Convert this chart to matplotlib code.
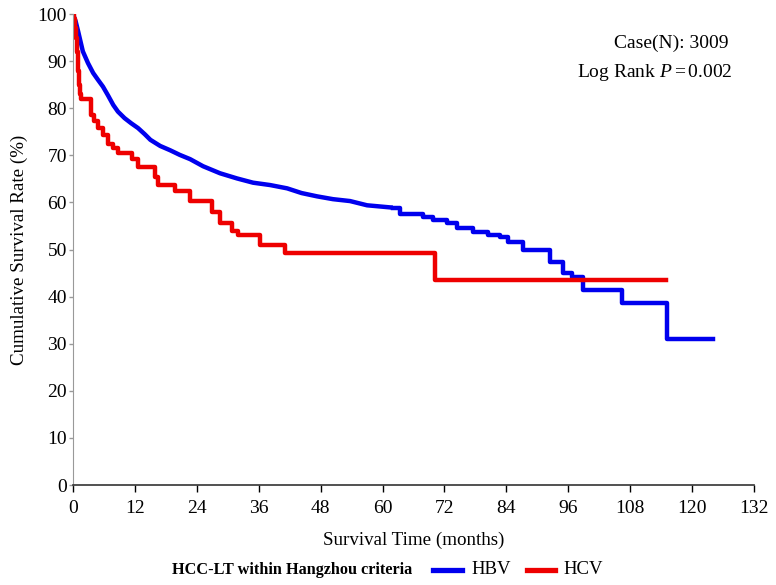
import matplotlib
matplotlib.use('Agg')
import matplotlib.pyplot as plt
from matplotlib.lines import Line2D

plt.rcParams['font.family'] = ['Liberation Serif', 'DejaVu Serif']
plt.rcParams['mathtext.fontset'] = 'custom'
plt.rcParams['mathtext.rm'] = 'Liberation Serif'
plt.rcParams['mathtext.it'] = 'Liberation Serif:italic'

# HBV curve (months, survival %)
# dense early part: many tiny events, drawn as a line
hbv_t = [0, 0.5, 1.0, 1.9, 2.9, 3.9, 4.8, 5.8, 6.8, 7.8, 8.7, 10, 11.3, 12.6, 13.9,
         15, 16.9, 18.8, 20.7, 22.7, 25.2, 28.5, 31.8, 34.9, 38.2, 41.5, 44.3, 47.3,
         50.4, 53.7, 57, 62]
hbv_s = [100, 98.5, 96.3, 92.1, 89.6, 87.5, 86.1, 84.6, 82.7, 80.7, 79.3, 77.9, 76.8,
         75.8, 74.5, 73.3, 72.0, 71.1, 70.1, 69.2, 67.7, 66.2, 65.1, 64.2, 63.7, 63.0,
         62.0, 61.3, 60.7, 60.3, 59.4, 58.9]
# sparse later part: visible steps
hbv_step_t = [62, 63.4, 67.8, 69.8, 72.5, 74.4, 77.5, 80.4, 82.8, 84.3, 87.2, 92.5,
              95, 96.7, 98.9, 106.4, 115.1, 124]
hbv_step_s = [58.9, 57.5, 57.0, 56.3, 55.7, 54.5, 53.8, 53.1, 52.7, 51.7, 49.9, 47.4,
              45, 44.2, 41.5, 38.6, 31.1, 31.1]

hcv_t = [0, 0.2, 0.4, 0.6, 0.8, 1.0, 1.2, 1.4, 1.6, 3.5, 4.1, 4.8, 5.8, 6.8, 7.8, 8.7,
         11.4, 12.6, 15.9, 16.5, 19.8, 22.7, 27, 28.5, 30.8, 32, 36.2, 41.1, 70.2, 115]
hcv_s = [100, 99, 97, 95, 92, 88, 85, 83, 82, 78.6, 77.2, 75.8, 74.4, 72.5, 71.5, 70.5,
         69.3, 67.5, 65.5, 63.8, 62.5, 60.3, 58, 55.6, 54, 53, 51, 49.2, 43.5, 43.5]

x_ticks = list(range(0, 133, 12))
y_ticks = list(range(0, 101, 10))

blue = '#0000ee'
red = '#ee0000'

fig = plt.figure(figsize=(7.76, 5.85), dpi=100)
ax = fig.add_axes([0.0941, 0.1709, 0.8775, 0.805])

ax.plot(hbv_t, hbv_s, color=blue, lw=3.2, solid_capstyle='butt')
ax.step(hbv_step_t, hbv_step_s, where='post', color=blue, lw=3.2)
ax.step(hcv_t, hcv_s, where='post', color=red, lw=3.2)

ax.set_xlim(0, 132)
ax.set_ylim(0, 100)
ax.set_xticks(x_ticks)
ax.set_yticks(y_ticks)
ax.tick_params(axis='x', direction='out', length=5, width=1, pad=6, labelsize=14)
ax.tick_params(axis='y', direction='out', length=3, width=1, pad=1.5, labelsize=14,
               color='#999999')
for s in ['top', 'right']:
    ax.spines[s].set_visible(False)
ax.spines['left'].set_color('#999999')
ax.spines['bottom'].set_color('#333333')
ax.spines['bottom'].set_linewidth(1.2)

ax.set_xlabel('Survival Time (months)', fontsize=13.7, labelpad=10)
ax.set_ylabel('Cumulative Survival Rate (%)', fontsize=13.7, labelpad=7)

ax.text(0.962, 0.938, 'Case(N): 3009', transform=ax.transAxes, ha='right',
        va='center', fontsize=14)
ax.text(0.969, 0.877, 'Log Rank $P$$=$0.002', transform=ax.transAxes, ha='right',
        va='center', fontsize=14)

# legend row under the axis
fig.text(172 / 776, 1 - 570 / 585, 'HCC-LT within Hangzhou criteria', fontsize=11.7,
         fontweight='bold', ha='left', va='center')
fig.add_artist(Line2D([433 / 776, 462 / 776], [1 - 570 / 585] * 2, color=blue, lw=3.8,
                      transform=fig.transFigure))
fig.text(471 / 776, 1 - 570 / 585, 'HBV', fontsize=13.5, ha='left', va='center')
fig.add_artist(Line2D([527 / 776, 555 / 776], [1 - 570 / 585] * 2, color=red, lw=3.8,
                      transform=fig.transFigure))
fig.text(563 / 776, 1 - 570 / 585, 'HCV', fontsize=13.5, ha='left', va='center')

fig.savefig('out.png', dpi=100)
